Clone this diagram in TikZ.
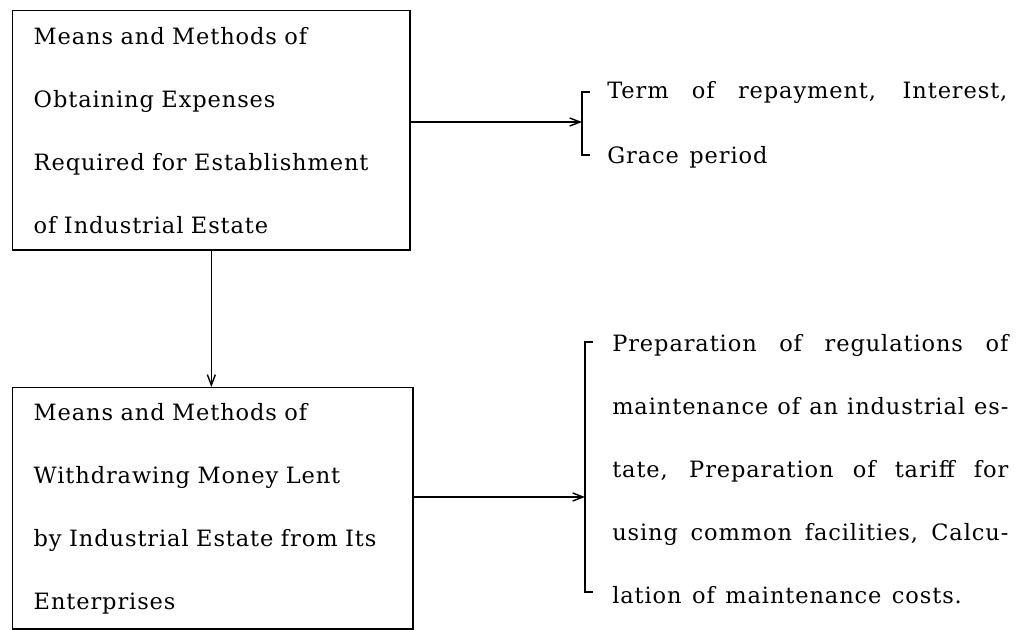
\documentclass[tikz,border=0pt]{standalone}
\usepackage{fontspec}
\setmainfont{DejaVu Serif}[LetterSpace=4, WordSpace=1.3]
\usetikzlibrary{arrows.meta,positioning,calc}

\begin{document}
\begin{tikzpicture}[x=0.025cm,y=-0.025cm,
        stage/.style={draw, line width=1pt, align=left, anchor=north west, inner xsep=0.525cm, inner ysep=0pt, font=\fontsize{16}{44.8}\selectfont},
        detail/.style={align=justify, anchor=west, inner sep=0pt, font=\fontsize{16}{44.8}\selectfont},
        flow/.style={-{Straight Barb[length=2.6mm,width=2mm]}, line width=1pt},
        brace/.style={line width=1pt}
    ]
        \useasboundingbox (0,0) rectangle (1024,630);

        \node[stage, text width=8.88cm, minimum height=5.98cm] (obtain) at (12,10) {Means and Methods of\\Obtaining Expenses\\Required for Establishment\\of Industrial Estate};
        \node[stage, text width=8.95cm, minimum height=6.03cm] (withdraw) at (12,387) {Means and Methods of\\Withdrawing Money Lent\\by Industrial Estate from Its\\Enterprises};

        \node[detail, text width=10cm, font=\fontsize{16}{46}\selectfont] (terms) at (607,124.5) {Term of repayment, Interest,\linebreak Grace period};
        \node[detail, text width=9.9cm] (upkeep) at (612,469) {Preparation of regulations of\linebreak maintenance of an industrial es-\linebreak tate, Preparation of tariff for\linebreak using common facilities, Calcu-\linebreak lation of maintenance costs.};

        \coordinate (fork1) at (582,122);
        \coordinate (fork2) at (585,497);

        \draw[flow] (obtain.south) -- (obtain.south |- withdraw.north);
        \draw[flow] (obtain.east |- fork1) -- (fork1);
        \draw[flow] (withdraw.east |- fork2) -- (fork2);

        \draw[brace] (590,92) -- (582,92) -- (582,155) -- (590,155);
        \draw[brace] (593,342) -- (585,342) -- (585,592) -- (593,592);
    \end{tikzpicture}
\end{document}
